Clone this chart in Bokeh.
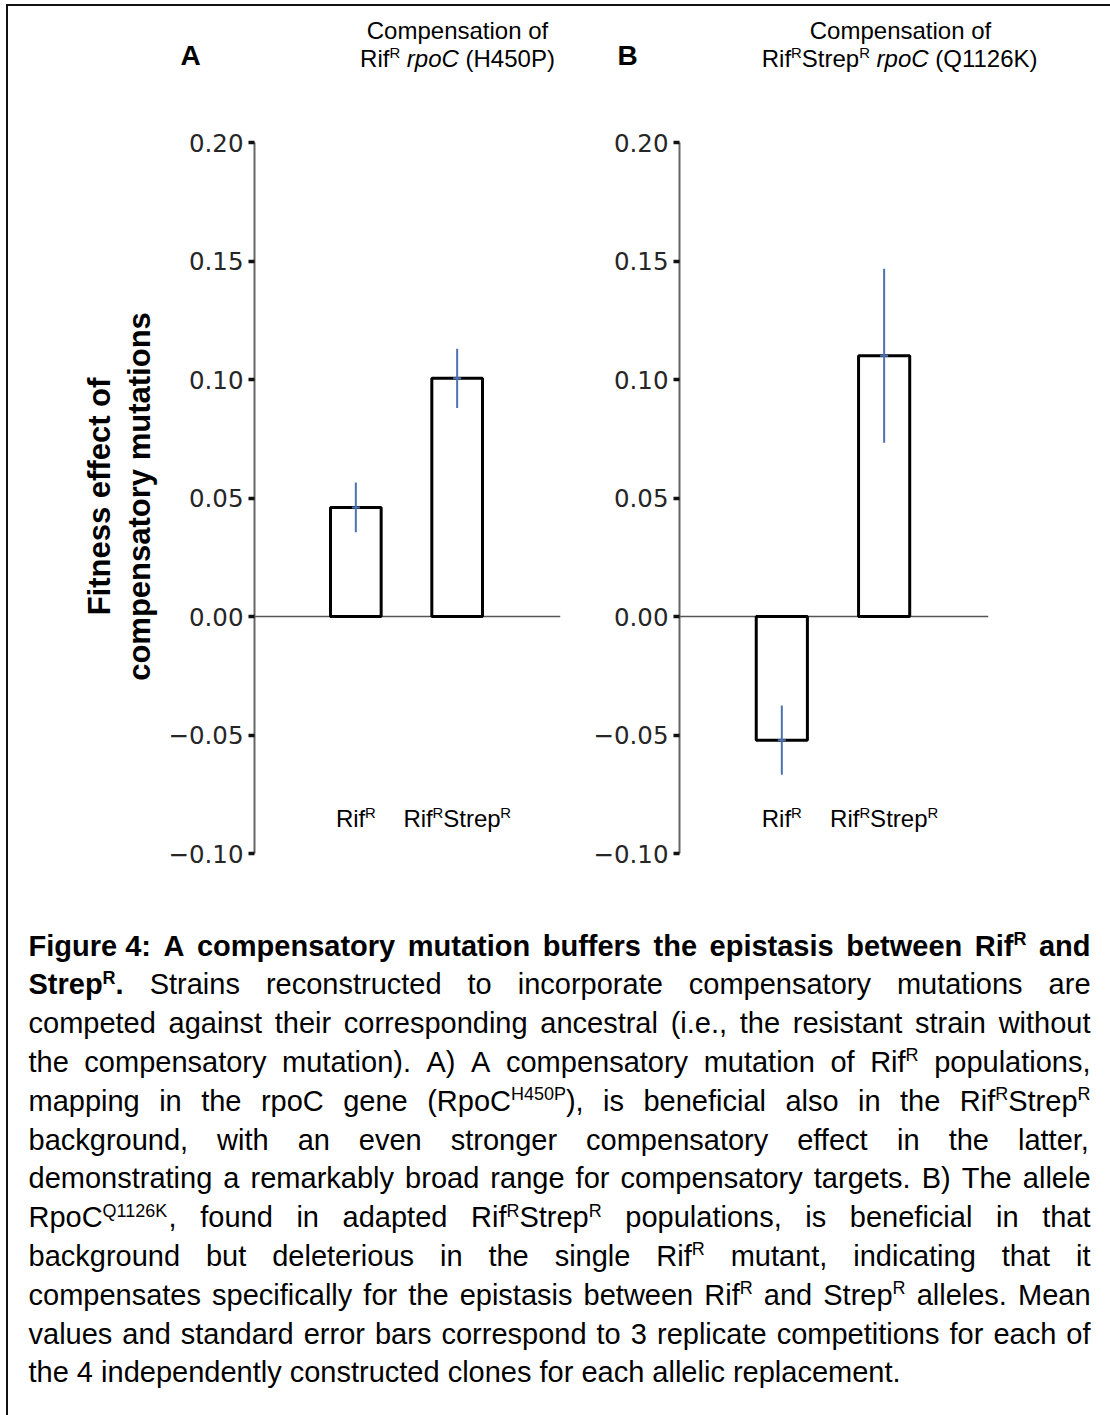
import re
import math

from bokeh.plotting import figure
from bokeh.models import (Range1d, FixedTicker, CustomJSTickFormatter, Span,
                          ColumnDataSource)
from bokeh.layouts import row, column
from bokeh.embed import file_html
from bokeh.resources import INLINE
from bokeh.core.properties import value

# ---------------------------------------------------------------------------
# Data: fitness effect of the compensatory mutation (mean and standard error)
# ---------------------------------------------------------------------------
groups = ["RifR", "RifRStrepR"]
group_x = [1, 2]

mean_a = [0.046, 0.1005]      # panel A: rpoC (H450P)
se_a = [0.0105, 0.0125]

mean_b = [-0.0522, 0.110]     # panel B: rpoC (Q1126K)
se_b = [0.0146, 0.0367]

y_ticks = [-0.10, -0.05, 0.00, 0.05, 0.10, 0.15, 0.20]

# Text pieces: (text, kind) with kind in n / i / b / sup / bsup
group_labels = [
    [("Rif", "n"), ("R", "sup")],
    [("Rif", "n"), ("R", "sup"), ("Strep", "n"), ("R", "sup")],
]
title_a = [
    [("Compensation of", "n")],
    [("Rif", "n"), ("R", "sup"), (" ", "n"), ("rpoC", "i"), (" (H450P)", "n")],
]
title_b = [
    [("Compensation of", "n")],
    [("Rif", "n"), ("R", "sup"), ("Strep", "n"), ("R", "sup"), (" ", "n"),
     ("rpoC", "i"), (" (Q1126K)", "n")],
]
panel_letters = ["A", "B"]
ylabel_lines = ["Fitness effect of", "compensatory mutations"]

caption_lines = [
    "Figure\u00a04: A compensatory mutation buffers the epistasis between Rif^{R} and",
    "Strep^{R}. Strains reconstructed to incorporate compensatory mutations are",
    "competed against their corresponding ancestral (i.e., the resistant strain without",
    "the compensatory mutation). A) A compensatory mutation of Rif^{R} populations,",
    "mapping in the rpoC gene (RpoC^{H450P}), is beneficial also in the Rif^{R}Strep^{R}",
    "background, with an even stronger compensatory effect in the latter,",
    "demonstrating a remarkably broad range for compensatory targets. B) The allele",
    "RpoC^{Q1126K}, found in adapted Rif^{R}Strep^{R} populations, is beneficial in that",
    "background but deleterious in the single Rif^{R} mutant, indicating that it",
    "compensates specifically for the epistasis between Rif^{R} and Strep^{R} alleles. Mean",
    "values and standard error bars correspond to 3 replicate competitions for each of",
    "the 4 independently constructed clones for each allelic replacement.",
]
caption_bold_words = [99, 1, 0, 0, 0, 0, 0, 0, 0, 0, 0, 0]

# ---------------------------------------------------------------------------
# Font metrics (Arial / Liberation Sans advance widths, 1/1000 em)
# ---------------------------------------------------------------------------
_NW = {" ": 278, "\u00a0": 278, "(": 333, ")": 333, ",": 278, "-": 333, ".": 278,
       ":": 278, ";": 278}
_BW = {" ": 278, "\u00a0": 278, "(": 333, ")": 333, ",": 278, "-": 333, ".": 278,
       ":": 333, ";": 333}
for d in "0123456789":
    _NW[d] = 556
    _BW[d] = 556
_NW.update(dict(zip("ABCDEFGHIJKLMNOPQRSTUVWXYZ",
                    [667, 667, 722, 722, 667, 611, 778, 722, 278, 500, 667, 556, 833,
                     722, 778, 667, 778, 722, 667, 611, 722, 667, 944, 667, 667, 611])))
_NW.update(dict(zip("abcdefghijklmnopqrstuvwxyz",
                    [556, 556, 500, 556, 556, 278, 556, 556, 222, 222, 500, 222, 833,
                     556, 556, 556, 556, 333, 500, 278, 556, 500, 722, 500, 500, 500])))
_BW.update(dict(zip("ABCDEFGHIJKLMNOPQRSTUVWXYZ",
                    [722, 722, 722, 722, 667, 611, 778, 722, 278, 556, 722, 611, 833,
                     722, 778, 667, 778, 722, 667, 611, 722, 667, 944, 667, 667, 611])))
_BW.update(dict(zip("abcdefghijklmnopqrstuvwxyz",
                    [556, 611, 556, 611, 556, 333, 611, 611, 278, 278, 556, 278, 889,
                     611, 611, 611, 611, 389, 556, 333, 611, 556, 778, 556, 556, 500])))

SANS = "Liberation Sans"
SUP_SCALE = 0.62
SUP_RAISE = 0.36
MID = 0.35          # em-box middle above the baseline


def text_width(text, bold, size):
    table = _BW if bold else _NW
    return sum(table.get(ch, 556) for ch in text) * size / 1000.0


def kind_info(kind, size):
    bold = kind in ("b", "bsup")
    sup = kind in ("sup", "bsup")
    style = "bold" if bold else ("italic" if kind == "i" else "normal")
    sz = size * SUP_SCALE if sup else size
    # vertical shift of the piece's middle relative to the line's middle
    dy = (size * SUP_RAISE - MID * (size - sz)) if sup else 0.0
    return bold, style, sz, dy


def runs_width(runs, size):
    w = 0.0
    for text, kind in runs:
        bold, _, sz, _ = kind_info(kind, size)
        w += text_width(text, bold, sz)
    return w


def layout_runs(runs, left, mid, size, out):
    """Append positioned pieces (x, y, text, kind, size) to out."""
    x = left
    for text, kind in runs:
        bold, style, sz, dy = kind_info(kind, size)
        body = text.lstrip(" ")
        x += text_width(text[:len(text) - len(body)], bold, sz)
        if body:
            out.append((x, mid - dy, body, kind, sz))
        x += text_width(body, bold, sz)
    return x


def draw_pieces(p, pieces, xmap=lambda v: v, ymap=lambda v: v):
    grouped = {}
    for x, y, text, kind, sz in pieces:
        grouped.setdefault((kind, round(sz, 2)), []).append((x, y, text))
    for (kind, sz), items in grouped.items():
        _, style, _, _ = kind_info(kind, 10)
        src = ColumnDataSource(dict(x=[xmap(i[0]) for i in items],
                                    y=[ymap(i[1]) for i in items],
                                    text=[i[2] for i in items]))
        p.text(x="x", y="y", text="text", source=src,
               text_font=value(SANS), text_font_size=value(f"{sz:.2f}px"),
               text_font_style=style, text_color="black",
               text_align="left", text_baseline="middle")


def page_figure(x0, x1, y0, y1):
    p = figure(width=x1 - x0, height=y1 - y0,
               x_range=Range1d(x0, x1), y_range=Range1d(y1, y0),
               x_axis_location=None, y_axis_location=None,
               toolbar_location=None, output_backend="svg", min_border=0,
               outline_line_color=None,
               background_fill_color="white", border_fill_color="white")
    p.grid.visible = False
    return p


# ---------------------------------------------------------------------------
# Page layout (pixels)
# ---------------------------------------------------------------------------
X0, Y0, X1, Y1 = 8, 6, 1110, 1415      # inside the frame border
HEAD_B = 100                           # bottom of the title strip
PLOT_B = 890                           # bottom of the plot row
STRIP_R = 165                          # right edge of the y-label strip
PANEL_SPLIT = 588
FA_LEFT, FA_W = 252, 308
FB_LEFT, FB_W = 679, 309
Y_TOP_PX, Y_BOT_PX = 142, 853          # pixel rows of the highest and lowest tick
X_SPAN = (0.0, 3.02)


def y_of(py):
    return y_ticks[-1] - (py - Y_TOP_PX) * (y_ticks[-1] - y_ticks[0]) / (Y_BOT_PX - Y_TOP_PX)


def make_panel(page_left, page_right, frame_left, frame_w, means, ses):
    ppu = frame_w / (X_SPAN[1] - X_SPAN[0])
    width = page_right - page_left
    mb_left = frame_left - page_left
    p = figure(width=width, height=PLOT_B - HEAD_B,
               x_range=Range1d(*X_SPAN),
               y_range=Range1d(y_of(PLOT_B), y_of(HEAD_B)),
               x_axis_location=None, y_axis_location="left",
               toolbar_location=None, output_backend="svg",
               min_border_left=mb_left, min_border_right=width - mb_left - frame_w,
               min_border_top=0, min_border_bottom=0,
               outline_line_color=None,
               background_fill_color="white", border_fill_color="white")
    p.grid.visible = False

    ax = p.yaxis[0]
    ax.ticker = FixedTicker(ticks=y_ticks)
    ax.bounds = (y_ticks[0], y_ticks[-1])
    ax.formatter = CustomJSTickFormatter(
        code="return (tick < -1e-9 ? '\u2212' : '') + Math.abs(tick).toFixed(2);")
    ax.axis_line_color = "#666666"
    ax.axis_line_width = 2
    ax.major_tick_line_color = "#111111"
    ax.major_tick_line_width = 3.5
    ax.major_tick_out = 6
    ax.major_tick_in = 0
    ax.minor_tick_line_color = None
    ax.major_label_text_font = "DejaVu Sans"
    ax.major_label_text_font_size = "24.5px"
    ax.major_label_text_color = "#262626"
    ax.major_label_standoff = 5

    p.add_layout(Span(location=0, dimension="width", line_color="#555555",
                      line_width=1.5, level="underlay"))

    lo = [m - s for m, s in zip(means, ses)]
    hi = [m + s for m, s in zip(means, ses)]
    src = ColumnDataSource(dict(x=group_x, group=groups, mean=means, lo=lo, hi=hi))
    p.vbar(x="x", top="mean", bottom=0, width=0.5, source=src,
           fill_color="white", line_color="black", line_width=3)
    p.segment(x0="x", y0="lo", x1="x", y1="hi", source=src,
              line_color="#4c72b0", line_width=2)
    p.scatter(x="x", y="mean", marker="dash", size=8, source=src,
              line_color="#4c72b0", line_width=2)

    # category names under the bars
    pieces = []
    for gx, runs in zip(group_x, group_labels):
        cx = frame_left + (gx - X_SPAN[0]) * ppu
        layout_runs(runs, cx - runs_width(runs, 24) / 2, 818, 24, pieces)
    draw_pieces(p, pieces,
                xmap=lambda px: X_SPAN[0] + (px - frame_left) / ppu, ymap=y_of)
    return p


pa = make_panel(STRIP_R, PANEL_SPLIT, FA_LEFT, FA_W, mean_a, se_a)
pb = make_panel(PANEL_SPLIT, X1, FB_LEFT, FB_W, mean_b, se_b)

# title strip: panel letters and two-line titles
head = page_figure(X0, X1, Y0, HEAD_B)
head_pieces = []
for title, cx in ((title_a, 457), (title_b, 900)):
    for runs, mid in zip(title, (30, 58)):
        layout_runs(runs, cx - runs_width(runs, 24) / 2, mid, 24, head_pieces)
for letter, cx in zip(panel_letters, (190, 627)):
    runs = [(letter, "b")]
    layout_runs(runs, cx - runs_width(runs, 28) / 2, 55, 28, head_pieces)
draw_pieces(head, head_pieces)

# y-axis label strip
side = page_figure(X0, STRIP_R, HEAD_B, PLOT_B)
side.text(x=[99, 139], y=[496, 496], text=ylabel_lines, angle=math.pi / 2,
          text_font=value(SANS), text_font_size=value("31px"),
          text_font_style="bold", text_color="black",
          text_align="center", text_baseline="middle")

# ---------------------------------------------------------------------------
# Caption, set as justified text in page pixel coordinates
# ---------------------------------------------------------------------------
CAP_SIZE = 29
CAP_LEFT, CAP_RIGHT = 28, 1090
CAP_MID0, CAP_PITCH = 945, 38.8

cap = page_figure(X0, X1, PLOT_B, Y1)


def split_word(word, bold):
    runs = []
    for part in re.split(r"(\^\{[^}]*\})", word):
        if not part:
            continue
        if part.startswith("^{"):
            runs.append((part[2:-1], "bsup" if bold else "sup"))
        else:
            runs.append((part, "b" if bold else "n"))
    return runs


cap_pieces = []
for i, (line, nbold) in enumerate(zip(caption_lines, caption_bold_words)):
    words = line.split(" ")
    word_runs = [split_word(w, j < nbold) for j, w in enumerate(words)]
    widths = [runs_width(r, CAP_SIZE) for r in word_runs]
    if i == len(caption_lines) - 1 or len(words) < 2:
        gap = text_width(" ", False, CAP_SIZE)
    else:
        gap = (CAP_RIGHT - CAP_LEFT - sum(widths)) / (len(words) - 1)
    mid = CAP_MID0 + i * CAP_PITCH
    x = CAP_LEFT
    for runs, w in zip(word_runs, widths):
        layout_runs(runs, x, mid, CAP_SIZE, cap_pieces)
        x += w + gap
draw_pieces(cap, cap_pieces)

layout = column(head, row(side, pa, pb), cap, margin=(4, 0, 0, 6),
                styles={"border-top": "2px solid #111111",
                        "border-left": "2px solid #111111"})

open("out.html", "w").write(file_html(layout, INLINE))
